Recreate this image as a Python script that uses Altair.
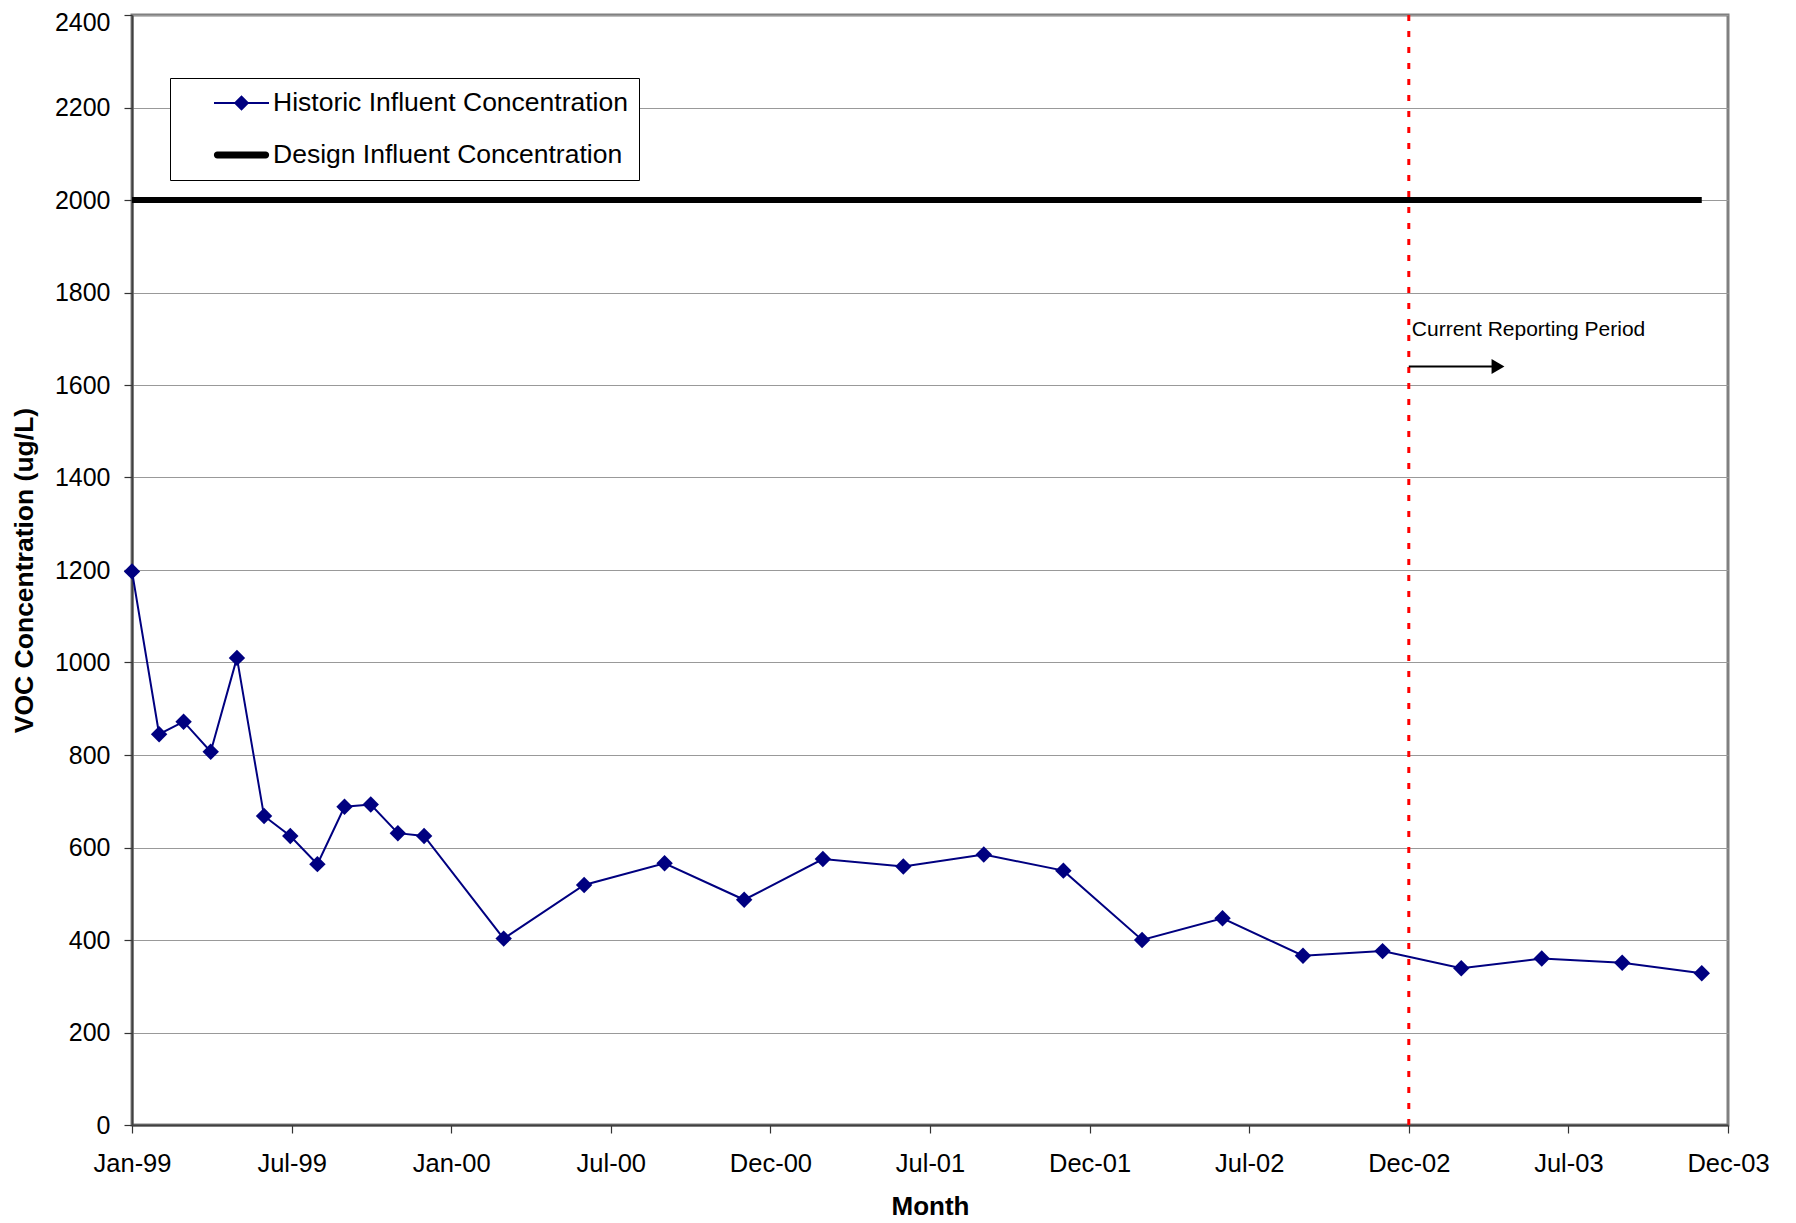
import altair as alt
import pandas as pd

# ---------------- data ----------------
hist_dates = [
    "1999-01-01", "1999-02-01", "1999-03-01", "1999-04-01", "1999-05-01", "1999-06-01",
    "1999-07-01", "1999-08-01", "1999-09-01", "1999-10-01", "1999-11-01", "1999-12-01",
    "2000-03-01", "2000-06-01", "2000-09-01", "2000-12-01",
    "2001-03-01", "2001-06-01", "2001-09-01", "2001-12-01",
    "2002-03-01", "2002-06-01", "2002-09-01", "2002-12-01",
    "2003-03-01", "2003-06-01", "2003-09-01", "2003-12-01",
]
hist_values = [
    1197, 845, 872, 807, 1010, 668, 625, 564, 688, 693, 631, 625,
    403, 519, 566, 487,
    575, 559, 585, 550,
    400, 447, 366, 376,
    339, 360, 351, 328,
]
design_dates = ["1999-01-01", "2003-12-01"]
design_values = [2000, 2000]
series_names = ["Historic Influent Concentration", "Design Influent Concentration"]

x_domain = ["1999-01-01T00:00:00", "2003-12-31T00:00:00"]
x_tick_dates = [
    "1999-01-01T00:00:00", "1999-07-02T12:00:00", "2000-01-01T00:00:00",
    "2000-07-01T12:00:00", "2000-12-31T00:00:00", "2001-07-01T12:00:00",
    "2001-12-31T00:00:00", "2002-07-01T12:00:00", "2002-12-31T00:00:00",
    "2003-07-01T12:00:00", "2003-12-31T00:00:00",
]
x_tick_format = "%b-%y"
y_domain = [0, 2400]
y_ticks = [0, 200, 400, 600, 800, 1000, 1200, 1400, 1600, 1800, 2000, 2200, 2400]

period_dates = ["2002-12-31"]
arrow_start = ["2002-12-31"]
arrow_end = ["2003-04-08"]
arrow_head = ["2003-04-12"]
arrow_values = [1640]
note_text = ["Current Reporting Period"]
note_values = [1706]

x_title = "Month"
y_title = "VOC Concentration (ug/L)"


def ms(s):
    return int(pd.Timestamp(s).value // 10**6)


# ---------------- tables ----------------
hist_df = pd.DataFrame({"date": hist_dates, "value": hist_values})
design_df = pd.DataFrame({"date": design_dates, "value": design_values})
period_df = pd.DataFrame({"date": period_dates})
arrow_df = pd.DataFrame({"date": arrow_start, "date2": arrow_end, "value": arrow_values})
head_df = pd.DataFrame({"date": arrow_head, "value": arrow_values})
note_df = pd.DataFrame({"date": period_dates, "value": note_values, "text": note_text})
# legend carrier: placed below the y-domain and clipped, only its legend is shown
legend_df = pd.DataFrame({"series": series_names, "date": [hist_dates[0]] * 2, "value": [-5000, -5000]})

FONT = "Liberation Sans, Arial, sans-serif"

x_scale = alt.Scale(type="utc", domain=[ms(d) for d in x_domain], nice=False)
y_scale = alt.Scale(domain=y_domain, nice=False, zero=True)

x_axis = alt.Axis(
    values=[ms(d) for d in x_tick_dates],
    labelExpr="utcFormat(datum.value, '" + x_tick_format + "')",
    title=x_title, grid=False, labelFlush=False, labelOverlap=False,
    labelFont=FONT, labelFontSize=25.5, labelColor="black", labelPadding=18,
    tickSize=8, tickColor="#333333", tickWidth=1.2,
    domainColor="#404040", domainWidth=2,
    titleFont=FONT, titleFontSize=26, titleFontWeight="bold", titleColor="black", titlePadding=17,
)
y_axis = alt.Axis(
    values=y_ticks, format="d", title=y_title,
    grid=True, gridColor="#999999", gridWidth=1,
    labelFont=FONT, labelFontSize=25, labelColor="black", labelPadding=14,
    labelOffset={"condition": {"test": "datum.value == " + str(y_domain[1]), "value": 7}, "value": 0},
    tickSize=8, tickColor="#333333", tickWidth=1.2,
    domainColor="#404040", domainWidth=2,
    titleFont=FONT, titleFontSize=26.5, titleFontWeight="bold", titleColor="black", titlePadding=16,
)


def X(field="date"):
    return alt.X(field, type="temporal", scale=x_scale, axis=x_axis)


def Y(field="value"):
    return alt.Y(field, type="quantitative", scale=y_scale, axis=y_axis)


design = alt.Chart(design_df).mark_line(color="black", strokeWidth=6).encode(x=X(), y=Y())
hist_line = alt.Chart(hist_df).mark_line(color="#000080", strokeWidth=2).encode(x=X(), y=Y())
hist_pts = alt.Chart(hist_df).mark_point(shape="diamond", filled=True, size=270, color="#000080", opacity=1).encode(x=X(), y=Y())

period = alt.Chart(period_df).mark_rule(color="#ff0000", strokeWidth=3, strokeDash=[6, 10]).encode(x=X())

arrow = alt.Chart(arrow_df).mark_rule(color="black", strokeWidth=2).encode(
    x=X(), x2=alt.X2("date2"), y=Y()
)
head = alt.Chart(head_df).mark_point(shape="triangle-right", filled=True, size=220, color="black", opacity=1).encode(
    x=X(), y=Y()
)
note = alt.Chart(note_df).mark_text(
    align="left", baseline="alphabetic", dx=3, font=FONT, fontSize=21, color="black"
).encode(x=X(), y=Y(), text="text:N")

hist_symbol = "M-1,-0.036H1V0.036H-1Z M0,-0.28L0.28,0L0,0.28L-0.28,0Z"
design_symbol = "M-0.88,-0.125H0.88A0.125,0.125 0 0 1 0.88,0.125H-0.88A0.125,0.125 0 0 1 -0.88,-0.125Z"

legend = alt.Legend(
    orient="none", legendX=38, legendY=63, title=None,
    strokeColor="black", fillColor="white", cornerRadius=0, padding=11,
    clipHeight=28, rowPadding=24, symbolSize=3025, symbolOffset=33, labelOffset=4,
    symbolStrokeWidth=0, labelFont=FONT, labelFontSize=26.5, labelColor="black",
    labelLimit=1000,
)
legend_layer = alt.Chart(legend_df).mark_point(filled=True, clip=True, opacity=1).encode(
    x=X(), y=Y(),
    color=alt.Color("series:N", scale=alt.Scale(domain=series_names, range=["#000080", "black"]), legend=legend),
    shape=alt.Shape("series:N", scale=alt.Scale(domain=series_names, range=[hist_symbol, design_symbol]), legend=legend),
)

chart = alt.layer(design, hist_line, hist_pts, period, arrow, head, note, legend_layer).properties(
    width=1596, height=1110,
    autosize=alt.AutoSizeParams(type="none"),
    padding={"left": 124, "top": 7, "right": 60, "bottom": 98},
    background="white",
).configure_view(stroke="#808080", strokeWidth=3)

chart.save("out.html", embed_options={"renderer": "svg", "actions": False})
